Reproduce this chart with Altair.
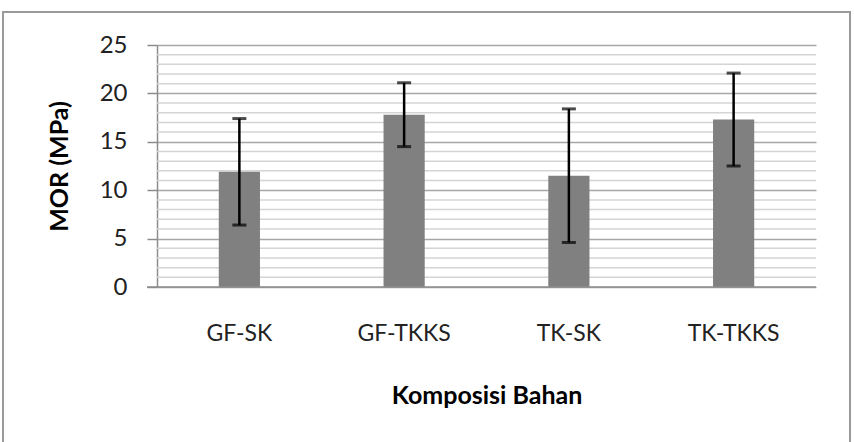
import altair as alt
import pandas as pd

categories = ["GF-SK", "GF-TKKS", "TK-SK", "TK-TKKS"]
mor_mean = [11.9, 17.8, 11.5, 17.3]
mor_sd = [5.5, 3.3, 6.9, 4.8]
major_ticks = [0, 5, 10, 15, 20, 25]
minor_ticks = [1, 2, 3, 4, 6, 7, 8, 9, 11, 12, 13, 14, 16, 17, 18, 19, 21, 22, 23, 24]

df = pd.DataFrame({"cat": categories, "mean": mor_mean, "sd": mor_sd})
minor_df = pd.DataFrame({"v": minor_ticks})

FONT = "Lato"
W, H = 659, 242

x_enc = alt.X(
    "cat:N",
    sort=categories,
    scale=alt.Scale(paddingInner=0.75, paddingOuter=0.375),
    axis=alt.Axis(
        title="Komposisi Bahan",
        labelAngle=0,
        ticks=False,
        domain=False,
        grid=False,
        labelFontSize=23,
        labelFont=FONT,
        labelColor="#222222",
        labelPadding=35,
        titleFontSize=25,
        titleFont=FONT,
        titleFontWeight="bold",
        titleColor="#000000",
        titleY=108,
        titleBaseline="middle",
    ),
)

y_scale = alt.Scale(domain=[0, 25], nice=False)

border = alt.Chart(alt.Data(values=[{}])).mark_rect(
    filled=False, stroke="#9a9a9a", strokeWidth=2
).encode(
    x=alt.value(-154), x2=alt.value(W + 34), y=alt.value(-33), y2=alt.value(H + 170)
)

minor = alt.Chart(minor_df).mark_rule(color="#d4d4d4", strokeWidth=1.5).encode(
    y=alt.Y("v:Q", scale=y_scale)
)

bars = alt.Chart(df).mark_bar(color="#808080").encode(
    x=x_enc,
    y=alt.Y(
        "mean:Q",
        scale=y_scale,
        axis=alt.Axis(
            title="MOR (MPa)",
            values=major_ticks,
            grid=True,
            gridColor="#a6a6a6",
            gridWidth=1.5,
            domainColor="#8c8c8c",
            domainWidth=1.5,
            tickColor="#8c8c8c",
            tickWidth=1.5,
            tickSize=10,
            labelFontSize=24,
            labelFont=FONT,
            labelColor="#222222",
            labelPadding=20,
            titleFontSize=25,
            titleFont=FONT,
            titleFontWeight="bold",
            titleColor="#000000",
            titleX=-98,
            titleY=H / 2,
            titleBaseline="middle",
        ),
    ),
)

err = alt.Chart(df).transform_calculate(
    lo="datum.mean - datum.sd", hi="datum.mean + datum.sd"
)

err_rule = err.mark_rule(color="#000000", strokeWidth=2.5).encode(
    x=alt.X("cat:N", sort=categories), y=alt.Y("lo:Q", scale=y_scale), y2="hi:Q"
)
cap_lo = err.mark_tick(color="#000000", thickness=3, size=14).encode(
    x=alt.X("cat:N", sort=categories), y=alt.Y("lo:Q", scale=y_scale)
)
cap_hi = err.mark_tick(color="#000000", thickness=3, size=14).encode(
    x=alt.X("cat:N", sort=categories), y=alt.Y("hi:Q", scale=y_scale)
)

zero_line = alt.Chart(alt.Data(values=[{}])).mark_rule(color="#8c8c8c", strokeWidth=1.5).encode(
    x=alt.value(-10), x2=alt.value(W), y=alt.value(H)
)

chart = alt.layer(border, minor, bars, err_rule, cap_lo, cap_hi, zero_line).properties(
    width=W,
    height=H,
    autosize=alt.AutoSizeParams(type="none"),
    padding={"left": 157, "top": 45, "right": 38, "bottom": 155},
    background="#ffffff",
).configure_view(stroke=None)

chart.save("out.html", embed_options={"renderer": "svg", "actions": False})
